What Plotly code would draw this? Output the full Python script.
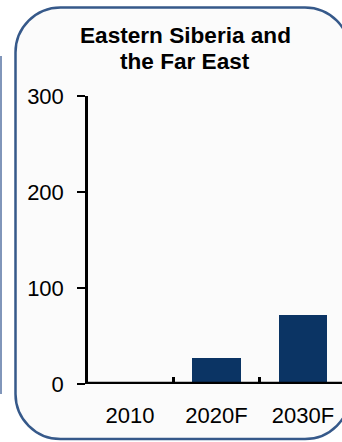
import plotly.graph_objects as go

# Chart data
categories = ["2010", "2020F", "2030F"]
values = [0, 27, 72]
y_ticks = [0, 100, 200, 300]
title_lines = ["Eastern Siberia and", "the Far East"]

W, H = 342, 442
L, R, T, B = 88, 0, 96, 58
PW, PH = W - L - R, H - T - B

FONT = "Liberation Sans, Arial, sans-serif"
NAVY = "#0b3464"
FRAME = "#36598a"


def px_x(px):
    return (px - L) / PW


def px_y(py):
    return (H - B - py) / PH


def rounded_rect(x0, y0, x1, y1, r):
    k = 0.5523 * r
    pts = [
        ("M", [(x0 + r, y0)]),
        ("L", [(x1 - r, y0)]),
        ("C", [(x1 - r + k, y0), (x1, y0 + r - k), (x1, y0 + r)]),
        ("L", [(x1, y1 - r)]),
        ("C", [(x1, y1 - r + k), (x1 - r + k, y1), (x1 - r, y1)]),
        ("L", [(x0 + r, y1)]),
        ("C", [(x0 + r - k, y1), (x0, y1 - r + k), (x0, y1 - r)]),
        ("L", [(x0, y0 + r)]),
        ("C", [(x0, y0 + r - k), (x0 + r - k, y0), (x0 + r, y0)]),
    ]
    out = []
    for cmd, ps in pts:
        out.append(cmd + " ".join(f"{px_x(a):.5f},{px_y(b):.5f}" for a, b in ps))
    return " ".join(out) + " Z"


fig = go.Figure(
    go.Bar(
        x=categories,
        y=values,
        width=0.565,
        marker=dict(color=NAVY, line=dict(width=0)),
    )
)

# category slot geometry: first boundary at 86.75 px, 86.5 px per category
x_lo = -0.5 + (L - 86.75) / 86.5
x_hi = -0.5 + (W - 86.75) / 86.5

shapes = [
    # panel frame
    dict(type="path", xref="paper", yref="paper", layer="below",
         path=rounded_rect(15.5, 7.5, 350, 439, 45),
         fillcolor="#fbfbfb", line=dict(color=FRAME, width=2.5)),
    # edge of the neighbouring panel
    dict(type="line", xref="paper", yref="paper", layer="below",
         x0=px_x(1), x1=px_x(1), y0=px_y(56), y1=px_y(394),
         line=dict(color="#8196ba", width=2)),
    # baseline
    dict(type="line", xref="paper", yref="y", layer="above",
         x0=px_x(85.5), x1=1.05, y0=0, y1=0,
         line=dict(color="black", width=4.5)),
]

TITLE_SIZE = 22.6
annotations = [
    dict(text=f"<b>{title_lines[0]}</b>", xref="paper", yref="paper",
         x=px_x(185.4), y=px_y(35.6), xanchor="center", yanchor="middle",
         showarrow=False, font=dict(family=FONT, size=TITLE_SIZE, color="black")),
    dict(text=f"<b>{title_lines[1]}</b>", xref="paper", yref="paper",
         x=px_x(185.4), y=px_y(61.2), xanchor="center", yanchor="middle",
         showarrow=False, font=dict(family=FONT, size=TITLE_SIZE, color="black")),
]

fig.update_layout(
    width=W, height=H,
    margin=dict(l=L, r=R, t=T, b=B, pad=0),
    paper_bgcolor="white",
    plot_bgcolor="rgba(0,0,0,0)",
    showlegend=False,
    shapes=shapes,
    annotations=annotations,
    bargap=0,
)

TICK_SIZE = 22
fig.update_xaxes(
    type="category",
    range=[x_lo, x_hi],
    showline=False, showgrid=False, zeroline=False,
    ticks="inside", tickson="boundaries", ticklen=7, tickwidth=2.5, tickcolor="black",
    tickfont=dict(family=FONT, size=TICK_SIZE, color="black"),
    ticklabelstandoff=16,
    fixedrange=True,
)

fig.update_yaxes(
    range=[0, 300],
    tickvals=y_ticks,
    showline=True, linewidth=2.5, linecolor="black",
    showgrid=False, zeroline=False,
    ticks="outside", ticklen=8, tickwidth=2, tickcolor="black",
    tickfont=dict(family=FONT, size=TICK_SIZE, color="black"),
    ticklabelstandoff=9,
    fixedrange=True,
)

fig.write_html("out.html", config={"displayModeBar": False})
